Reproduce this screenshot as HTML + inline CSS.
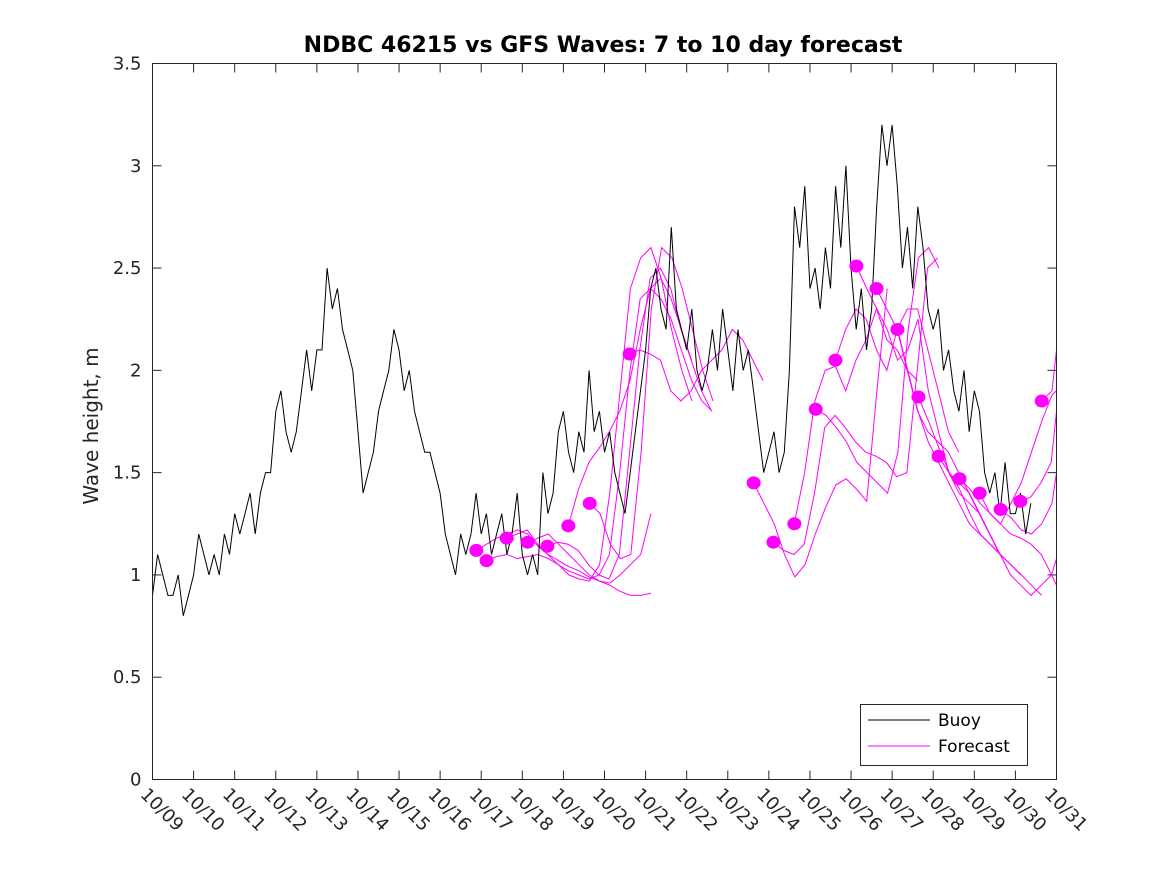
<!DOCTYPE html>
<html><head><meta charset="utf-8"><style>
html,body{margin:0;padding:0;background:#fff;}
svg{display:block;font-family:"DejaVu Sans","Liberation Sans",sans-serif;}
</style></head><body>
<svg id="chart" width="1167" height="875" viewBox="0 0 1167 875" xmlns="http://www.w3.org/2000/svg">
<rect width="1167" height="875" fill="#fff"/>
<text x="603" y="52" text-anchor="middle" font-size="22" font-weight="bold" fill="#000">NDBC 46215 vs GFS Waves: 7 to 10 day forecast</text>
<text transform="translate(98,426) rotate(-90)" text-anchor="middle" font-size="20" fill="#262626">Wave height, m</text>
<g id="plot"></g>
<rect x="152.5" y="63.5" width="904" height="716" fill="none" stroke="#262626" stroke-width="1"/>
<g>
<rect x="860.5" y="704.5" width="167" height="61" fill="#fff" stroke="#262626"/>
<line x1="868" y1="720" x2="930" y2="720" stroke="#000"/>
<text x="938" y="726" font-size="17" fill="#000">Buoy</text>
<line x1="868" y1="746" x2="930" y2="746" stroke="#ff00ff"/>
<text x="938" y="752" font-size="17" fill="#000">Forecast</text>
</g>
</svg>
<script>
const xTickLabels = ["10/09","10/10","10/11","10/12","10/13","10/14","10/15","10/16","10/17","10/18","10/19","10/20","10/21","10/22","10/23","10/24","10/25","10/26","10/27","10/28","10/29","10/30","10/31"];
const yTickValues = [0,0.5,1,1.5,2,2.5,3,3.5];
const yTickLabels = ["0","0.5","1","1.5","2","2.5","3","3.5"];
// buoy: 3-hourly values starting 10/09 00:00
const buoyValues = [
0.9,1.1,1.0,0.9,0.9,1.0,0.8,0.9,
1.0,1.2,1.1,1.0,1.1,1.0,1.2,1.1,
1.3,1.2,1.3,1.4,1.2,1.4,1.5,1.5,
1.8,1.9,1.7,1.6,1.7,1.9,2.1,1.9,
2.1,2.1,2.5,2.3,2.4,2.2,2.1,2.0,
1.7,1.4,1.5,1.6,1.8,1.9,2.0,2.2,
2.1,1.9,2.0,1.8,1.7,1.6,1.6,1.5,
1.4,1.2,1.1,1.0,1.2,1.1,1.2,1.4,
1.2,1.3,1.1,1.2,1.3,1.1,1.2,1.4,
1.1,1.0,1.1,1.0,1.5,1.3,1.4,1.7,
1.8,1.6,1.5,1.7,1.6,2.0,1.7,1.8,
1.6,1.7,1.5,1.4,1.3,1.5,1.7,1.9,
2.1,2.4,2.5,2.3,2.2,2.7,2.3,2.2,
2.1,2.3,2.0,1.9,2.0,2.2,2.0,2.3,
2.1,1.9,2.2,2.0,2.1,1.9,1.7,1.5,
1.6,1.7,1.5,1.6,2.0,2.8,2.6,2.9,
2.4,2.5,2.3,2.6,2.4,2.9,2.6,3.0,
2.5,2.2,2.4,2.1,2.3,2.8,3.2,3.0,
3.2,2.9,2.5,2.7,2.4,2.8,2.6,2.3,
2.2,2.3,2.0,2.1,1.9,1.8,2.0,1.7,
1.9,1.8,1.5,1.4,1.5,1.3,1.55,1.3,
1.3,1.4,1.2,1.35];
// forecast lines: start day and 6-hourly values
const forecastStarts = [7.88,8.13,8.62,9.13,9.61,10.12,10.64,11.61,14.63,15.11,15.62,16.14,16.62,17.13,17.62,18.13,18.64,19.13,19.64,20.13,20.64,21.12,21.64];
const forecastValues = [
[1.12,1.15,1.18,1.2,1.22,1.2,1.14,1.1,1.07,1.04,1.02,0.99,0.97,0.95,0.92,0.9,0.9,0.91],
[1.07,1.09,1.1,1.08,1.09,1.1,1.08,1.05,1.0,0.98,0.97,1.05,1.4,1.9,2.4,2.55,2.6,2.45,2.2,2.0,1.85],
[1.18,1.2,1.22,1.15,1.1,1.05,1.02,1.0,0.98,1.0,1.1,1.5,2.0,2.35,2.4,2.35,2.25,2.1,1.95,1.85,1.8],
[1.16,1.18,1.2,1.15,1.1,1.05,1.0,0.97,0.96,1.0,1.05,1.1,1.3],
[1.14,1.16,1.15,1.12,1.05,1.0,0.98,1.1,1.6,2.1,2.45,2.5,2.4,2.2,2.05,1.9,1.8],
[1.24,1.42,1.55,1.62,1.7,1.8,1.95,2.2,2.4,2.45,2.35,2.2,2.05],
[1.35,1.3,1.15,1.08,1.1,1.6,2.3,2.6,2.55,2.4,2.2,2.0,1.85],
[2.08,2.1,2.08,2.05,1.9,1.85,1.9,2.0,2.05,2.1,2.2,2.15,2.05,1.95],
[1.45,1.35,1.25,1.1,0.99,1.05,1.2,1.33,1.44,1.47,1.42,1.36,1.9,2.4],
[1.16,1.12,1.1,1.15,1.4,1.72,1.78,1.72,1.65,1.6,1.58,1.55,1.48,1.5,2.0,2.5,2.55],
[1.25,1.5,1.85,2.0,2.02,1.9,2.05,2.15,2.3,2.15,2.1,2.0,1.95],
[1.81,1.78,1.72,1.65,1.55,1.5,1.45,1.4,1.6,2.2,2.55,2.6,2.5],
[2.05,2.2,2.3,2.25,2.1,2.0,2.2,2.3,2.3,2.1,1.9,1.7,1.6],
[2.51,2.4,2.3,2.2,2.05,2.1,2.25,1.9,1.7,1.5,1.4,1.35,1.3],
[2.40,2.3,2.2,2.0,1.8,1.7,1.65,1.6,1.5,1.4,1.3,1.2,1.1],
[2.20,2.0,1.8,1.65,1.55,1.45,1.35,1.25,1.2,1.15,1.1,1.05,1.0],
[1.87,1.75,1.62,1.5,1.42,1.3,1.2,1.15,1.1,1.05,1.0,0.95,0.9],
[1.58,1.5,1.45,1.4,1.3,1.2,1.1,1.0,0.95,0.9,0.95,1.0,1.08],
[1.47,1.42,1.35,1.3,1.25,1.35,1.45,1.6,1.75,1.88,1.9,2.0,2.02,2.0,1.9,2.1],
[1.40,1.3,1.25,1.2,1.18,1.15,1.1,1.0,0.95,0.92,0.95,1.2,1.5,1.8,2.3,2.85],
[1.32,1.28,1.22,1.2,1.25,1.35,1.5,1.65,2.0],
[1.36,1.38,1.45,1.55,1.8],
[1.85,1.9,2.1]];
const markerDays = [7.88,8.13,8.62,9.13,9.61,10.12,10.64,11.61,14.63,15.11,15.62,16.14,16.62,17.13,17.62,18.13,18.64,19.13,19.64,20.13,20.64,21.12,21.64];
const markerValues = [1.12,1.07,1.18,1.16,1.14,1.24,1.35,2.08,1.45,1.16,1.25,1.81,2.05,2.51,2.40,2.20,1.87,1.58,1.47,1.40,1.32,1.36,1.85];

const X0=152.5, X1=1056.5, Y0=779.5, Y1=63.5, DAYS=22, YMAX=3.5;
function xs(d){return X0+(X1-X0)*d/DAYS;}
function ys(v){return Y0-(Y0-Y1)*v/YMAX;}
const NS="http://www.w3.org/2000/svg";
const plot=document.getElementById('plot');
function mk(tag,attrs,parent){const e=document.createElementNS(NS,tag);for(const k in attrs)e.setAttribute(k,attrs[k]);(parent||plot).appendChild(e);return e;}

xTickLabels.forEach((lab,i)=>{
  const x=xs(i);
  const t1=mk('line',{x1:x,y1:Y0,x2:x,y2:Y0-9,stroke:'#262626'});
  
  
  const t2=mk('line',{x1:x,y1:Y1,x2:x,y2:Y1+9,stroke:'#262626'});
  
  
  const tx=mk('text',{x:0,y:0,'font-size':18,fill:'#262626',transform:`translate(${x-13},${Y0+16}) rotate(45)`});
  tx.textContent=lab;
  
  
});
yTickValues.forEach((v,i)=>{
  const y=ys(v);
  const t1=mk('line',{x1:X0,y1:y,x2:X0+9,y2:y,stroke:'#262626'});
  
  
  const t2=mk('line',{x1:X1,y1:y,x2:X1-9,y2:y,stroke:'#262626'});
  
  
  const tx=mk('text',{x:X0-11,y:y+6,'font-size':18,fill:'#262626','text-anchor':'end'});
  tx.textContent=yTickLabels[i];
  
  
});

forecastValues.forEach((vals,i)=>{
  const pts=vals.map((v,j)=>xs(Math.min(forecastStarts[i]+j*0.25,DAYS)).toFixed(1)+','+ys(v).toFixed(1)).join(' ');
  const pl=mk('polyline',{points:pts,fill:'none',stroke:'#ff00ff','stroke-width':1});
  
  
});
{
  const pts=buoyValues.map((v,j)=>xs(j*0.125).toFixed(1)+','+ys(v).toFixed(1)).join(' ');
  const pl=mk('polyline',{points:pts,fill:'none',stroke:'#000','stroke-width':1});
  
  
}
markerDays.forEach((d,i)=>{
  const c=mk('ellipse',{cx:xs(d),cy:ys(markerValues[i]),rx:7,ry:6.5,fill:'#ff00ff'});
  
  
});
</script>
</body></html>
